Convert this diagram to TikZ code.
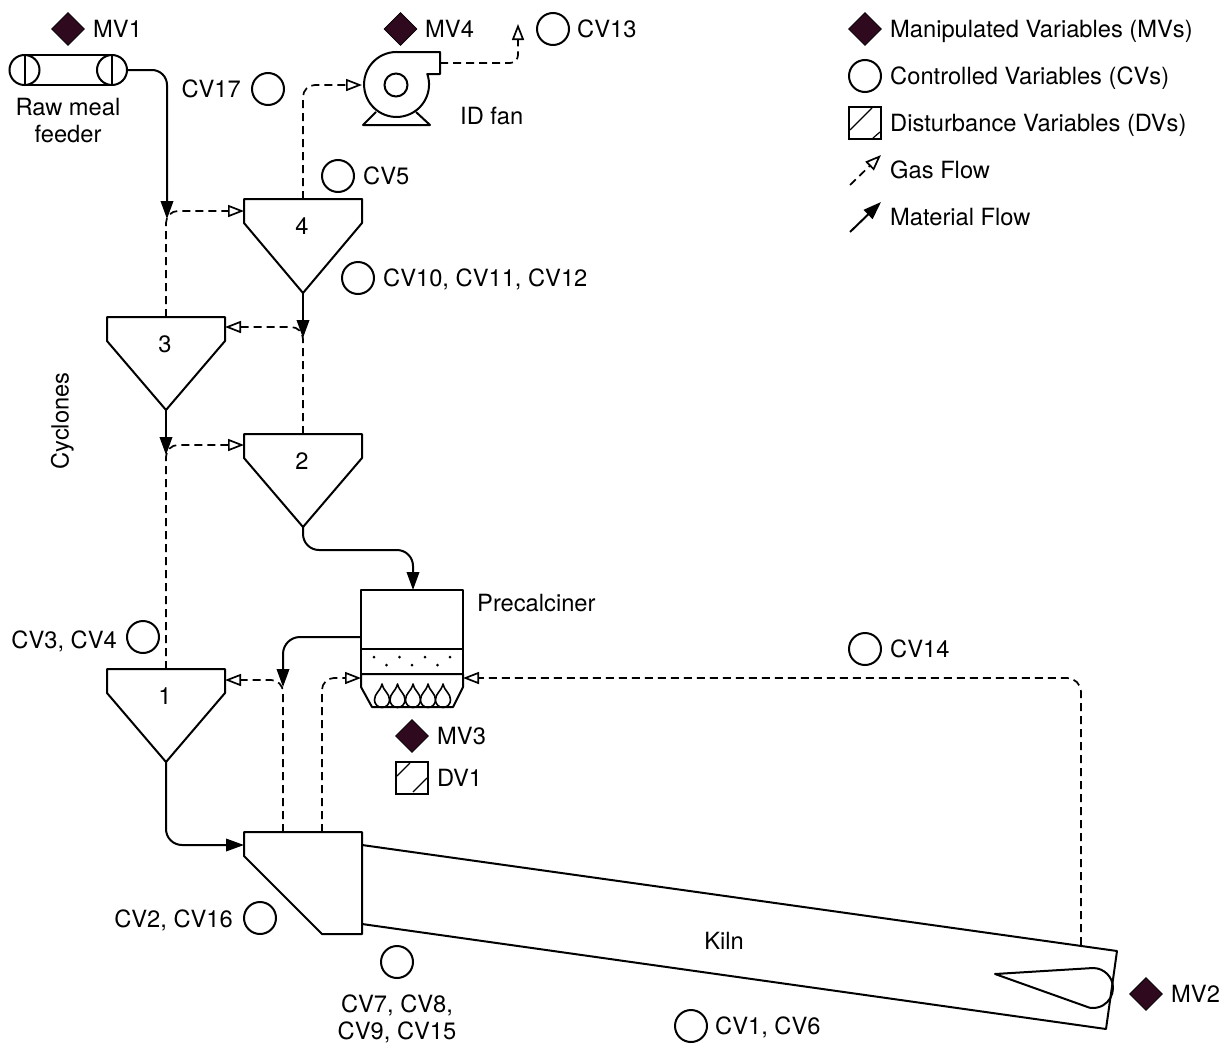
\documentclass[tikz,border=0pt]{standalone}
\usepackage{fontspec}
\setmainfont{TeX Gyre Heros}
\usetikzlibrary{arrows.meta,shapes.geometric}
\definecolor{mvfill}{HTML}{2F0A1F}
\tikzset{
  lbl/.style={inner sep=0pt,text height=17pt,text depth=0pt,font=\fontsize{23.7}{27}\selectfont},
  lblw/.style={lbl,anchor=west},
  lble/.style={lbl,anchor=east},
  lblm/.style={inner sep=0pt,align=center,font=\fontsize{23.7}{27}\selectfont},
  shape line/.style={draw=black,line width=2pt,line join=round},
  thin line/.style={draw=black,line width=1.2pt},
  mvd/.style={diamond,aspect=1,draw=black,fill=mvfill,line width=0.8pt,minimum size=33pt,inner sep=0pt},
  cvc/.style={circle,draw=black,fill=white,line width=2pt,minimum size=32pt,inner sep=0pt},
  dvs/.style={rectangle,draw=black,fill=white,line width=2pt,minimum size=32pt,inner sep=0pt},
  material/.style={draw=black,line width=2pt,rounded corners=15pt,-{Triangle[length=18pt,width=12.5pt,fill=black]}},
  gas/.style={draw=black,line width=1.7pt,dash pattern=on 8pt off 5pt,rounded corners=12pt,-{Triangle[open,length=16pt,width=12pt,line width=1.7pt,fill=white]}},
  dot/.style={fill=black,circle,inner sep=0pt,minimum size=3pt},
}
\newcommand{\flameat}[1]{\draw[shape line,line width=1.6pt,fill=white] (#1,684) .. controls (#1-2,692) and (#1-7.5,693) .. (#1-7.5,700) arc[start angle=180,end angle=0,radius=7.5] .. controls (#1+7.5,693) and (#1+2,692) .. (#1,684) -- cycle;}
\begin{document}
\begin{tikzpicture}[x=1pt,y=-1pt]
\useasboundingbox (0,0) rectangle (1220,1044);
\fill[white] (0,0) rectangle (1220,1044);

% named anchor points
\coordinate (feedOut) at (127,70);
\coordinate (feedBend) at (167,70);
\coordinate (j4) at (167,219);
\coordinate (j4c) at (166,211);
\coordinate (j3) at (303,338);
\coordinate (j3c) at (303,327);
\coordinate (j2) at (166,455);
\coordinate (j2c) at (166,445);
\coordinate (j1) at (283,687);
\coordinate (j1c) at (283,680);
\coordinate (cy4in) at (244,211);
\coordinate (cy3in) at (225,327);
\coordinate (cy2in) at (244,445);
\coordinate (cy1in) at (225,680);
\coordinate (cy4top) at (303,199);
\coordinate (cy4tip) at (303,293);
\coordinate (cy3top) at (166,317);
\coordinate (cy3tip) at (166,410);
\coordinate (cy2top) at (303,434);
\coordinate (cy2tip) at (303,527);
\coordinate (cy1top) at (166,669);
\coordinate (cy1tip) at (166,762);
\coordinate (preTop) at (413,590);
\coordinate (preOut) at (361,637);
\coordinate (preInL) at (361,678);
\coordinate (preInR) at (463,678);
\coordinate (kilnUpA) at (283,832);
\coordinate (kilnUpB) at (322,832);
\coordinate (kilnUpC) at (1081,945);
\coordinate (kilnIn) at (244,845);
\coordinate (fanIn) at (362,85);
\coordinate (fanOut) at (440,63);
\coordinate (stack) at (518,24);

% gas flows
\draw[gas] (cy3top) -- (j4c) -- (cy4in);
\draw[gas] (cy2top) -- (j3c) -- (cy3in);
\draw[gas] (cy1top) -- (j2c) -- (cy2in);
\draw[gas] (kilnUpA) -- (j1c) -- (cy1in);
\draw[gas] (kilnUpB) -- (322,678) -- (preInL);
\draw[gas,rounded corners=14pt] (kilnUpC) -- (1081,678) -- (preInR);
\draw[gas] (cy4top) -- (303,85) -- (fanIn);
\draw[gas,rounded corners=8pt] (fanOut) -- (518,63) -- (stack);

% material flows
\draw[material] (feedOut) -- (feedBend) -- (j4);
\draw[material] (cy4tip) -- (j3);
\draw[material] (cy3tip) -- (j2);
\draw[material,rounded corners=16pt] (cy2tip) -- (303,550) -- (413,550) -- (preTop);
\draw[material,rounded corners=17pt] (preOut) -- (283,637) -- (j1);
\draw[material,rounded corners=16pt] (cy1tip) -- (166,845) -- (kilnIn);

% feeder
\draw[shape line] (24.5,55) -- (112,55) (24.5,85) -- (112,85);
\node[cvc,minimum size=30pt] (fdL) at (24.5,70) {};
\node[cvc,minimum size=30pt] (fdR) at (112,70) {};
\draw[shape line] (fdL.north) -- (fdL.south) (fdR.north) -- (fdR.south);
\node[lblm] (rawmeal) at (68,121) {Raw meal\\feeder};

% cyclones
\draw[shape line] (244,199) -- (362,199) -- (362,223) -- (303,293) -- (244,223) -- cycle;
\draw[shape line] (107,317) -- (225,317) -- (225,341) -- (166,410) -- (107,341) -- cycle;
\draw[shape line] (244,434) -- (362,434) -- (362,458) -- (303,527) -- (244,458) -- cycle;
\draw[shape line] (107,669) -- (225,669) -- (225,693) -- (166,762) -- (107,693) -- cycle;
\node[lbl] (n4) at (302,226) {4};
\node[lbl] (n3) at (165,344) {3};
\node[lbl] (n2) at (302,461) {2};
\node[lbl] (n1) at (165,696) {1};
\node[lbl,rotate=90] (cyc) at (60,421) {Cyclones};

% fan
\draw[shape line] (376,112) -- (363,125) -- (430,125) -- (416,112);
\draw[shape line,fill=white] (396.5,52) -- (440,52) -- (440,74) -- (427.3,74) arc[start angle=-18.8,end angle=270,radius=32.5] -- cycle;
\node[cvc,minimum size=23pt] (fanhub) at (396,85) {};
\node[lblw] (idfan) at (460,116) {ID fan};

% precalciner
\draw[shape line] (361,590) rectangle (463,649);
\draw[shape line] (361,649) rectangle (463,674);
\foreach \x in {382,397.5,413,428,443}{\flameat{\x}}
\draw[shape line] (361,674) -- (463,674) -- (463,687) -- (453,707) -- (372,707) -- (361,687) -- cycle;
\foreach \x/\y in {374/657,399.5/657,425/657,450/657,386.5/665,412/665,437.5/665}{\node[dot,minimum size=3pt] at (\x,\y) {};}
\node[lblw] (precal) at (477,603) {Precalciner};

% kiln
\draw[shape line] (362,845) -- (1117,951) -- (1106,1029) -- (362,924);
\draw[shape line] (244,832) -- (362,832) -- (362,934) -- (322,934) -- (244,856) -- cycle;
\node[lbl] (kiln) at (724,941) {Kiln};
\draw[shape line] (995,974) -- (1093,968) arc[start angle=-90,end angle=100,radius=20] -- cycle;

% manipulated variables
\node[mvd] (mv1) at (68,29) {};
\node[lblw] at (93,29) {MV1};
\node[mvd] (mv4) at (400.5,29) {};
\node[lblw] at (425,29) {MV4};
\node[mvd] (mv3) at (412,736) {};
\node[lblw] at (437,736) {MV3};
\node[mvd] (mv2) at (1146,994) {};
\node[lblw] at (1171,994) {MV2};

% controlled variables
\node[cvc] (cv13) at (553,29) {};
\node[lblw] at (577,29) {CV13};
\node[cvc] (cv17) at (268,89) {};
\node[lble] at (241,89) {CV17};
\node[cvc] (cv5) at (338,176) {};
\node[lblw] at (363,176) {CV5};
\node[cvc] (cv10) at (358,278) {};
\node[lblw] at (383,278) {CV10, CV11, CV12};
\node[cvc] (cv3) at (143,637) {};
\node[lble] at (117,640) {CV3, CV4};
\node[cvc] (cv14) at (865,649) {};
\node[lblw] at (890,649) {CV14};
\node[cvc] (cv2) at (260,918) {};
\node[lble] at (233,919) {CV2, CV16};
\node[cvc] (cv7) at (397,962) {};
\node[lblm] at (397,1019) {CV7, CV8,\\CV9, CV15};
\node[cvc] (cv1) at (691,1026) {};
\node[lblw] at (715,1026) {CV1, CV6};

% disturbance
\node[dvs] (dv1) at (412,778) {};
\draw[thin line] (397,776) -- (410,763) (413,792) -- (427,778);
\node[lblw] at (437,778) {DV1};

% legend
\node[mvd] (lgm) at (865,29) {};
\node[lblw] at (890,29) {Manipulated Variables (MVs)};
\node[cvc] (lgc) at (865,76) {};
\node[lblw] at (890,76) {Controlled Variables (CVs)};
\node[dvs] (lgd) at (865,123) {};
\draw[thin line] (850,130) -- (872,108) (873,138) -- (880,132);
\node[lblw] at (890,123) {Disturbance Variables (DVs)};
\coordinate (lgas1) at (850,185);
\coordinate (lgas2) at (881,155);
\draw[gas] (lgas1) -- (lgas2);
\node[lblw] at (890,170) {Gas Flow};
\coordinate (lmat1) at (850,232);
\coordinate (lmat2) at (881,202);
\draw[material] (lmat1) -- (lmat2);
\node[lblw] at (890,217) {Material Flow};
\end{tikzpicture}
\end{document}
